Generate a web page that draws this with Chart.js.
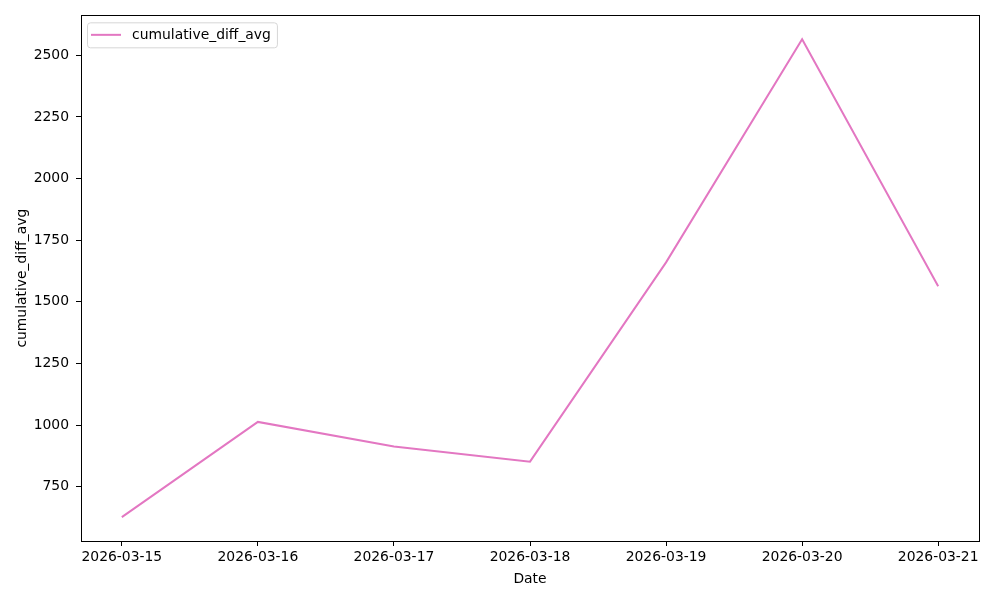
<!DOCTYPE html>
<html>
<head>
<meta charset="utf-8">
<script src="https://cdn.jsdelivr.net/npm/chart.js@4"></script>
<style>
  html, body { margin: 0; padding: 0; background: #fff; }
  #wrap { width: 1000px; height: 600px; }
</style>
</head>
<body>
<div id="wrap"><canvas id="ChartDiff" width="1000" height="600"></canvas></div>
<script>
// values
var dates = ['2026-03-15', '2026-03-16', '2026-03-17', '2026-03-18', '2026-03-19', '2026-03-20', '2026-03-21'];
var cumulativeDiffAvg = [627, 1013, 913, 852, 1660, 2565, 1563];
var yTicks = [750, 1000, 1250, 1500, 1750, 2000, 2250, 2500];
var seriesLabel = 'cumulative_diff_avg';

var fontFamily = '"DejaVu Sans", sans-serif';
var pink = '#e377c2';

// matplotlib-like margins (5% each side)
var yMin = Math.min.apply(null, cumulativeDiffAvg);
var yMax = Math.max.apply(null, cumulativeDiffAvg);
var yPad = (yMax - yMin) * 0.05;
var xPad = (dates.length - 1) * 0.05;

var points = [];
for (var i in cumulativeDiffAvg) {
  points.push({ x: Number(i), y: cumulativeDiffAvg[i] });
}

// frame round the plot and a legend box inside it, like matplotlib
var framePlugin = {
  id: 'frame',
  afterDraw: function(chart) {
    var ctx = chart.ctx;
    var a = chart.chartArea;
    ctx.save();
    ctx.strokeStyle = '#000';
    ctx.lineWidth = 1;
    ctx.strokeRect(Math.round(a.left) + 0.5, Math.round(a.top) + 0.5,
                   Math.round(a.right - a.left), Math.round(a.bottom - a.top));

    // legend
    var label = chart.data.datasets[0].label;
    ctx.font = '13.9px ' + fontFamily;
    var tw = ctx.measureText(label).width;
    var bx = a.left + 6, by = a.top + 7, bh = 25;
    var bw = 45 + tw + 6;
    ctx.beginPath();
    if (ctx.roundRect) ctx.roundRect(bx + 0.5, by + 0.5, bw, bh, 3); else ctx.rect(bx + 0.5, by + 0.5, bw, bh);
    ctx.fillStyle = 'rgba(255,255,255,0.8)';
    ctx.fill();
    ctx.strokeStyle = '#d6d6d6';
    ctx.stroke();
    ctx.beginPath();
    ctx.strokeStyle = pink;
    ctx.lineWidth = 2;
    ctx.moveTo(bx + 4, by + 12.5);
    ctx.lineTo(bx + 34, by + 12.5);
    ctx.stroke();
    ctx.fillStyle = '#000';
    ctx.textBaseline = 'middle';
    ctx.fillText(label, bx + 45, by + 13);
    ctx.restore();
  }
};

var chartEl = document.getElementById('ChartDiff');
if (chartEl) {
  var ctx = chartEl.getContext('2d');
  var lineGraph = new Chart(ctx, {
    type: 'line',
    data: {
      datasets: [
        {
          label: seriesLabel,
          data: points,
          borderColor: pink,
          backgroundColor: pink,
          borderWidth: 2,
          pointRadius: 0,
          tension: 0,
          fill: false
        }
      ]
    },
    options: {
      responsive: false,
      animation: false,
      devicePixelRatio: 1,
      layout: { padding: { top: 15, right: 21, left: 0, bottom: 0 } },
      plugins: { legend: { display: false }, tooltip: { enabled: false } },
      scales: {
        x: {
          type: 'linear',
          min: -xPad,
          max: dates.length - 1 + xPad,
          afterBuildTicks: function(scale) {
            scale.ticks = dates.map(function(d, k) { return { value: k }; });
          },
          afterFit: function(scale) { scale.height = 59; },
          grid: { drawOnChartArea: false, drawTicks: true, tickLength: 5, tickColor: '#000' },
          border: { display: false },
          ticks: {
            color: '#000',
            font: { family: fontFamily, size: 13.9 },
            padding: 3,
            maxRotation: 0,
            autoSkip: false,
            callback: function(v) { return dates[v]; }
          },
          title: {
            display: true,
            text: 'Date',
            color: '#000',
            font: { family: fontFamily, size: 13.9 },
            padding: { top: 4, bottom: 12 }
          }
        },
        y: {
          type: 'linear',
          min: yMin - yPad,
          max: yMax + yPad,
          afterBuildTicks: function(scale) {
            scale.ticks = yTicks.map(function(t) { return { value: t }; });
          },
          afterFit: function(scale) { scale.width = 81; },
          grid: { drawOnChartArea: false, drawTicks: true, tickLength: 5, tickColor: '#000' },
          border: { display: false },
          ticks: {
            color: '#000',
            font: { family: fontFamily, size: 13.9 },
            padding: 7,
            callback: function(v) { return String(v); }
          },
          title: {
            display: true,
            text: seriesLabel,
            color: '#000',
            font: { family: fontFamily, size: 13.9 },
            padding: { top: 14, bottom: 0 }
          }
        }
      }
    },
    plugins: [framePlugin]
  });
}
</script>
</body>
</html>
